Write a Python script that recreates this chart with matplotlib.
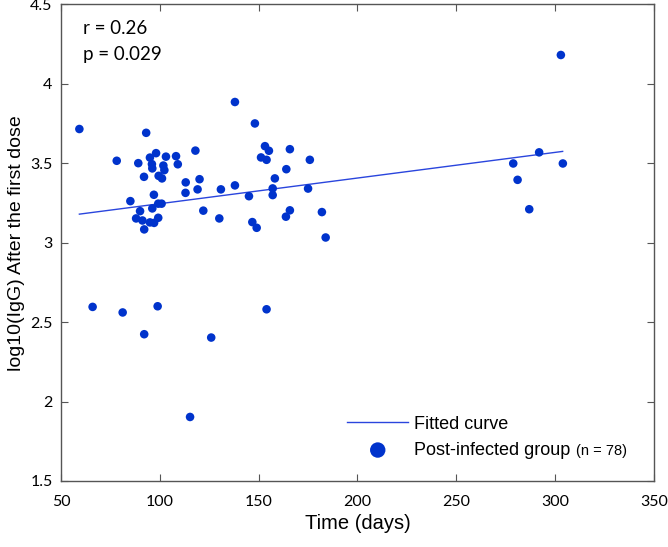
import numpy as np
import matplotlib
matplotlib.use('Agg')
import matplotlib.pyplot as plt

# days after infection and log10(IgG) after the first dose
days = [59.3, 93.1, 78.2, 89.1, 95.0, 98.1, 103.1, 108.2, 109.1, 96.0,
        96.2, 101.8, 102.3, 92.0, 99.4, 101.1, 118.0, 113.1, 113.0, 120.1,
        119.1, 130.9, 138.0, 138.0, 85.1, 97.0, 100.9, 99.2, 96.2, 90.0,
        88.0, 91.2, 95.0, 99.2, 97.1, 92.1, 122.0, 130.1, 148.1, 153.2,
        155.2, 151.2, 154.0, 165.8, 175.9, 164.0, 158.2, 145.1, 157.1, 157.1,
        175.0, 146.8, 149.0, 165.8, 163.8, 182.0, 183.9, 66.0, 81.2, 98.9,
        92.1, 126.0, 154.0, 115.3, 302.9, 291.9, 278.8, 303.9, 281.0, 286.9]
igg = [3.716, 3.692, 3.516, 3.501, 3.536, 3.564, 3.542, 3.545, 3.494, 3.495,
       3.468, 3.486, 3.457, 3.415, 3.421, 3.405, 3.580, 3.380, 3.314, 3.400,
       3.336, 3.336, 3.361, 3.886, 3.262, 3.302, 3.246, 3.246, 3.216, 3.199,
       3.153, 3.140, 3.128, 3.157, 3.125, 3.084, 3.202, 3.153, 3.751, 3.608,
       3.579, 3.537, 3.522, 3.589, 3.522, 3.463, 3.405, 3.293, 3.342, 3.300,
       3.341, 3.130, 3.094, 3.204, 3.164, 3.193, 3.033, 2.596, 2.561, 2.600,
       2.424, 2.403, 2.581, 1.903, 4.182, 3.569, 3.499, 3.499, 3.396, 3.211]

# fitted line end points
fit_days = [59.3, 303.8]
fit_igg = [3.18, 3.575]

r_text = 'r = 0.26'
p_text = 'p = 0.029'
n_text = '(n = 78)'

dot_color = '#0033cc'
line_color = '#2a45dd'

fig = plt.figure(figsize=(6.68, 5.47), dpi=100)
ax = fig.add_axes([0.0913, 0.1207, 0.8877, 0.8711])

ax.plot(fit_days, fit_igg, color=line_color, lw=1.0, label='Fitted curve')
ax.scatter(days, igg, s=38, color=dot_color, edgecolors='none',
           label='Post-infected group', zorder=3)

ax.set_xlim(50, 350)
ax.set_ylim(1.5, 4.5)
ax.set_xticks([50, 100, 150, 200, 250, 300, 350])
ax.set_yticks([1.5, 2, 2.5, 3, 3.5, 4, 4.5])
ax.set_yticklabels(['1.5', '2', '2.5', '3', '3.5', '4', '4.5'])

ax.tick_params(direction='in', top=True, right=True, length=5,
               color='#555555', labelsize=11.5)
ax.tick_params(axis='x', pad=10)
ax.tick_params(axis='y', pad=6)
for lbl in ax.get_xticklabels() + ax.get_yticklabels():
    lbl.set_family('Lato')
for sp in ax.spines.values():
    sp.set_color('#555555')
    sp.set_linewidth(1.0)

ax.set_xlabel('Time (days)', fontsize=14.5, family='Liberation Sans', labelpad=4)
ax.set_ylabel('log10(IgG) After the first dose', fontsize=14,
              family='Liberation Sans', labelpad=4)

ax.text(0.037, 0.949, r_text, transform=ax.transAxes, fontsize=13.5,
        family='Lato', va='center')
ax.text(0.037, 0.896, p_text, transform=ax.transAxes, fontsize=13.5,
        family='Lato', va='center')

leg = ax.legend(loc='upper left', bbox_to_anchor=(0.455, 0.171), frameon=False,
                prop={'family': 'Liberation Sans', 'size': 13},
                handlelength=3.4, handletextpad=0.3, markerscale=1.8,
                labelspacing=0.5)
# smaller "(n = 78)" after the group label
fig.canvas.draw()
ax.annotate(n_text, xy=(1, 0), xycoords=leg.get_texts()[1], xytext=(4, 0.5),
            textcoords='offset points', fontsize=10.5,
            family='Liberation Sans', va='bottom', zorder=6)

plt.savefig('out.png', dpi=100)
